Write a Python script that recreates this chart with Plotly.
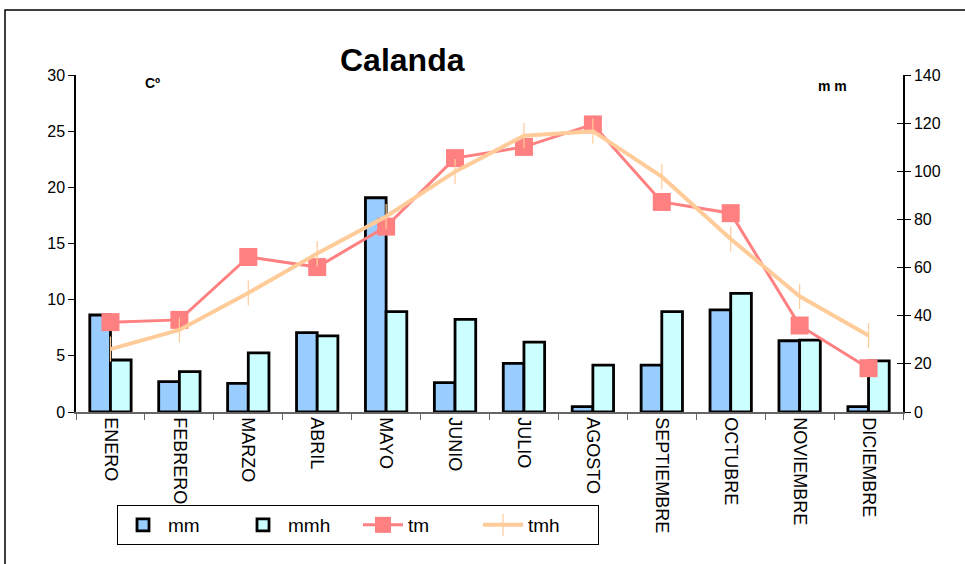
import plotly.graph_objects as go

months = ["ENERO", "FEBRERO", "MARZO", "ABRIL", "MAYO", "JUNIO", "JULIO",
          "AGOSTO", "SEPTIEMBRE", "OCTUBRE", "NOVIEMBRE", "DICIEMBRE"]
mm = [40.3, 12.6, 11.9, 33.0, 89.0, 12.2, 20.2, 2.2, 19.5, 42.4, 29.6, 2.2]
mmh = [21.6, 16.8, 24.6, 31.6, 41.7, 38.5, 29.0, 19.5, 41.7, 49.3, 29.9, 21.2]
tm = [8.0, 8.2, 13.8, 12.9, 16.5, 22.6, 23.6, 25.6, 18.7, 17.7, 7.7, 3.9]
tmh = [5.6, 7.3, 10.6, 14.1, 17.4, 21.4, 24.6, 25.0, 20.95, 15.4, 10.3, 6.8]

W, H = 965, 564
L, R, T, B = 76, 903, 75, 412
pw, ph = R - L, B - T

def px(x):
    return (x - L) / pw

def py(y):
    return (B - y) / ph

FONT = "Liberation Sans, Arial, sans-serif"

fig = go.Figure()
fig.add_trace(go.Bar(x=months, y=mm, name="mm", yaxis="y",
                     marker=dict(color="#99CCFF", line=dict(color="black", width=2.8))))
fig.add_trace(go.Bar(x=months, y=mmh, name="mmh", yaxis="y",
                     marker=dict(color="#CCFFFF", line=dict(color="black", width=2.8))))
fig.add_trace(go.Scatter(x=months, y=tm, name="tm", yaxis="y2", mode="lines+markers",
                         line=dict(color="#FF8080", width=3),
                         marker=dict(symbol="square", size=18, color="#FF8080")))
fig.add_trace(go.Scatter(x=months, y=tmh, name="tmh", yaxis="y2", mode="lines+markers",
                         line=dict(color="#FFCC99", width=4),
                         marker=dict(symbol="line-ns", size=18, color="#FFCC99",
                                     line=dict(color="#FFCC99", width=1.2))))

fig.update_layout(
    width=W, height=H,
    margin=dict(l=L, r=W - R, t=T, b=H - B, autoexpand=False),
    paper_bgcolor="white", plot_bgcolor="white",
    font=dict(family=FONT, color="black", size=16),
    barmode="group", bargap=0.4, bargroupgap=0,
    showlegend=True,
    legend=dict(orientation="h", x=px(117), y=py(505), xanchor="left", yanchor="top",
                bgcolor="white", bordercolor="black", borderwidth=1,
                font=dict(size=19, family=FONT), traceorder="normal",
                entrywidth=65, entrywidthmode="pixels", itemwidth=40),
    xaxis=dict(type="category", showgrid=False, showline=True, linecolor="#666666",
               linewidth=1.5, ticks="outside", ticklen=6, tickcolor="#666666",
               tickson="boundaries", tickangle=90, tickfont=dict(size=18),
               range=[-0.5, 11.5], automargin=False),
    yaxis=dict(side="right", range=[0, 140], tickvals=list(range(0, 141, 20)),
               showgrid=False, zeroline=False, showline=True, linecolor="black",
               linewidth=1.5, ticks="outside", ticklen=6, tickcolor="black",
               tickfont=dict(size=16), automargin=False),
    yaxis2=dict(overlaying="y", side="left", range=[0, 30], tickvals=list(range(0, 31, 5)),
                showgrid=False, zeroline=False, showline=True, linecolor="black",
                linewidth=1.5, ticks="outside", ticklen=6, tickcolor="black",
                tickfont=dict(size=16), automargin=False),
    yaxis3=dict(overlaying="y", side="right", range=[0, 140], tickvals=list(range(0, 141, 20)),
                showgrid=False, zeroline=False, showline=False, ticks="inside", ticklen=6,
                tickcolor="black", showticklabels=False, automargin=False),
    shapes=[dict(type="rect", xref="paper", yref="paper",
                 x0=px(5), x1=px(975), y0=py(575), y1=py(10),
                 line=dict(color="black", width=1.5), fillcolor="rgba(0,0,0,0)")],
    annotations=[
        dict(text="<b>Calanda</b>", x=px(402), y=py(60), xref="paper", yref="paper",
             showarrow=False, font=dict(size=32, family=FONT), xanchor="center", yanchor="middle"),
        dict(text="<b>Cº</b>", x=px(152), y=py(83), xref="paper", yref="paper",
             showarrow=False, font=dict(size=14, family=FONT), xanchor="center", yanchor="middle"),
        dict(text="<b>m m</b>", x=px(832), y=py(86), xref="paper", yref="paper",
             showarrow=False, font=dict(size=14, family=FONT), xanchor="center", yanchor="middle"),
    ],
)
fig.add_trace(go.Scatter(x=[months[0]], y=[0], yaxis="y3", mode="markers",
                         marker=dict(opacity=0), showlegend=False, hoverinfo="skip"))

fig.write_html("out.html", config={"displayModeBar": False},
               post_script="document.body.style.margin='0';document.body.style.overflow='hidden';")
